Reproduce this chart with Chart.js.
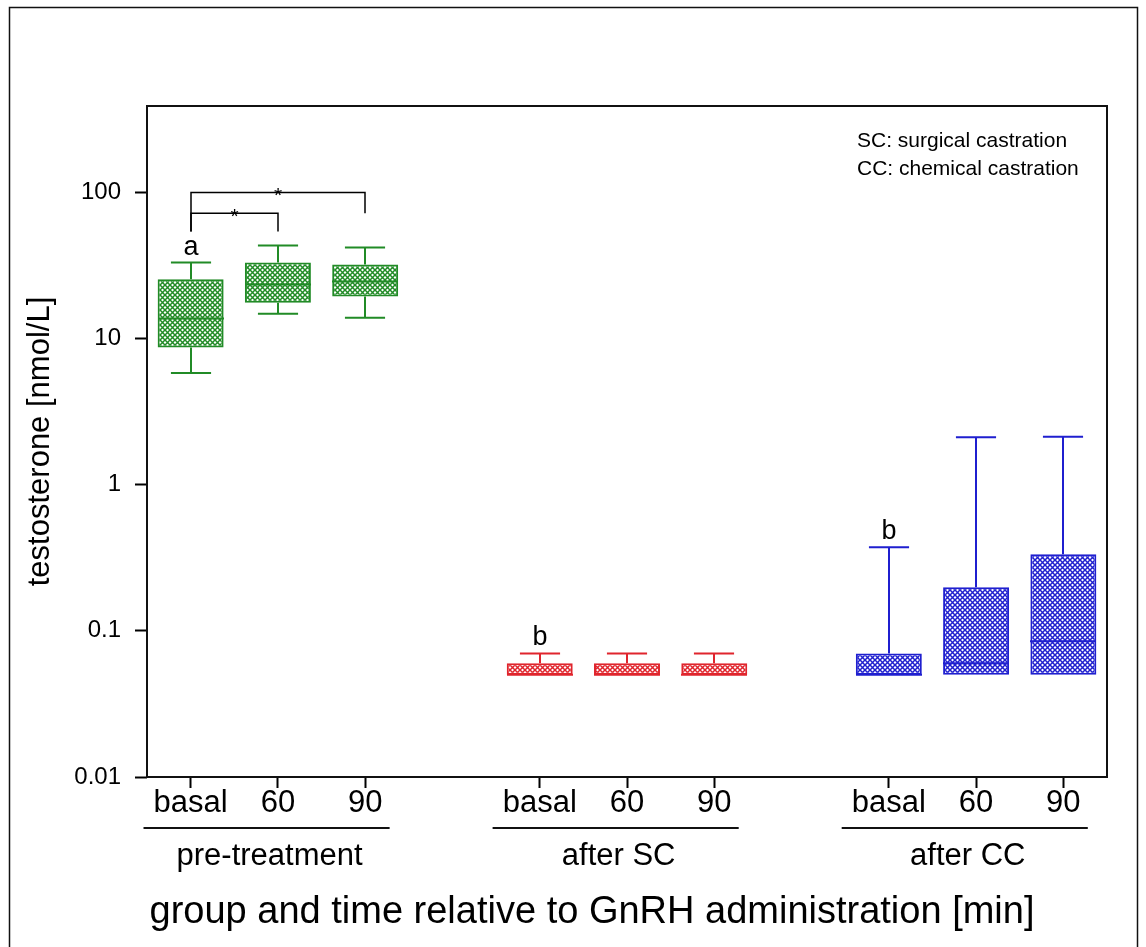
<!DOCTYPE html>
<html>
<head>
<meta charset="utf-8">
<script src="https://cdn.jsdelivr.net/npm/chart.js@4.4.1/dist/chart.umd.min.js"></script>
<style>
    body { margin: 0; background: #fff; }
    #wrap { width: 1146px; height: 947px; }
</style>
</head>
<body>
<div id="wrap"><canvas id="boxchart_testosterone" width="1146" height="947"></canvas></div>
<script>
// x slots: 3 time points per group, an empty slot between groups
const timeLabels = ['basal', '60', '90', '', 'basal', '60', '90', '', 'basal', '60', '90'];
const groupNames = ['pre-treatment', 'after SC', 'after CC'];
const groupColors = ['#218b26', '#e0252d', '#1f1fcf'];

// box plot values in nmol/L
const whiskerLow  = [5.8, 14.8, 13.9, null, 0.05, 0.05, 0.05, null, 0.05, 0.05, 0.05];
const quartile1   = [8.7, 17.6, 19.4, null, 0.05, 0.05, 0.05, null, 0.05, 0.05, 0.05];
const medians     = [13.7, 23.4, 24.6, null, 0.05, 0.05, 0.05, null, 0.05, 0.06, 0.085];
const quartile3   = [25.4, 33.1, 32.1, null, 0.06, 0.06, 0.06, null, 0.07, 0.199, 0.334];
const whiskerHigh = [33.1, 43.3, 42.0, null, 0.07, 0.07, 0.07, null, 0.373, 2.11, 2.13];

const yTicks = [0.01, 0.1, 1, 10, 100];

// letters over the boxes
const letters = ['a', '', '', '', 'b', '', '', '', 'b', '', ''];

// significance brackets: slots, level of the bar, end of left / right legs
const bracketFrom = [0, 0];
const bracketTo = [2, 1];
const bracketLevel = [100, 72];
const bracketLeftEnd = [54, 54];
const bracketRightEnd = [72, 54];

const legendLines = ['SC: surgical castration', 'CC: chemical castration'];
const xTitle = 'group and time relative to GnRH administration [min]';

const FONT = '"Liberation Sans", Arial, sans-serif';
Chart.defaults.font.family = FONT;
Chart.defaults.color = '#000';

const groupOf = (i) => Math.floor(i / 4);

// cross-hatch fill like the original figure
const hatch = (color) => {
    const c = document.createElement('canvas');
    c.width = 5;
    c.height = 5;
    const g = c.getContext('2d');
    g.fillStyle = '#fff';
    g.fillRect(0, 0, 5, 5);
    g.strokeStyle = color;
    g.lineWidth = 1.5;
    g.beginPath();
    g.moveTo(0, 0); g.lineTo(5, 5);
    g.moveTo(5, 0); g.lineTo(0, 5);
    g.stroke();
    return g.createPattern(c, 'repeat');
};

// whiskers, medians, letters, brackets, group labels, frames
const boxExtras = {
    id: 'boxExtras',
    afterDatasetsDraw(chart) {
        const {ctx, chartArea: area, scales: {x, y}} = chart;
        const bars = chart.getDatasetMeta(0).data;
        const slot = area.width / timeLabels.length;
        ctx.save();
        ctx.lineWidth = 2;
        timeLabels.forEach((lab, i) => {
            if (quartile1[i] == null) return;
            const cx = Math.round(x.getPixelForValue(i));
            const half = bars[i].width / 2;
            const cap = slot * 0.23;
            const color = groupColors[groupOf(i)];
            ctx.strokeStyle = color;
            ctx.beginPath();
            // upper whisker
            if (whiskerHigh[i] > quartile3[i]) {
                const yh = y.getPixelForValue(whiskerHigh[i]);
                ctx.moveTo(cx, y.getPixelForValue(quartile3[i]));
                ctx.lineTo(cx, yh);
                ctx.moveTo(cx - cap, yh);
                ctx.lineTo(cx + cap, yh);
            }
            // lower whisker
            if (whiskerLow[i] < quartile1[i]) {
                const yl = y.getPixelForValue(whiskerLow[i]);
                ctx.moveTo(cx, y.getPixelForValue(quartile1[i]));
                ctx.lineTo(cx, yl);
                ctx.moveTo(cx - cap, yl);
                ctx.lineTo(cx + cap, yl);
            }
            // median
            const ym = y.getPixelForValue(medians[i]);
            ctx.moveTo(cx - half, ym);
            ctx.lineTo(cx + half, ym);
            ctx.stroke();

            if (letters[i]) {
                ctx.fillStyle = '#000';
                ctx.font = '27px ' + FONT;
                ctx.textAlign = 'center';
                ctx.textBaseline = 'alphabetic';
                ctx.fillText(letters[i], cx, y.getPixelForValue(whiskerHigh[i]) - 8);
            }
        });

        // significance brackets
        ctx.strokeStyle = '#000';
        ctx.lineWidth = 1.5;
        ctx.fillStyle = '#000';
        ctx.font = '21px ' + FONT;
        ctx.textAlign = 'center';
        ctx.textBaseline = 'alphabetic';
        bracketFrom.forEach((from, k) => {
            const x1 = Math.round(x.getPixelForValue(from));
            const x2 = Math.round(x.getPixelForValue(bracketTo[k]));
            const yb = y.getPixelForValue(bracketLevel[k]);
            ctx.beginPath();
            ctx.moveTo(x1, y.getPixelForValue(bracketLeftEnd[k]));
            ctx.lineTo(x1, yb);
            ctx.lineTo(x2, yb);
            ctx.lineTo(x2, y.getPixelForValue(bracketRightEnd[k]));
            ctx.stroke();
            ctx.fillText('*', (x1 + x2) / 2, yb + 10);
        });
        ctx.restore();
    },
    afterDraw(chart) {
        const {ctx, chartArea: area, scales: {x}} = chart;
        ctx.save();
        // plot frame
        ctx.strokeStyle = '#111';
        ctx.lineWidth = 2;
        ctx.strokeRect(area.left, area.top, area.width, area.height);
        // outer figure frame
        ctx.lineWidth = 1.5;
        ctx.strokeRect(9.5, 7.5, 1128, 960);

        // group underlines and names
        ctx.fillStyle = '#000';
        ctx.font = '31px ' + FONT;
        ctx.textAlign = 'center';
        ctx.textBaseline = 'alphabetic';
        ctx.lineWidth = 2;
        groupNames.forEach((name, g) => {
            const first = g * 4;
            const left = x.getPixelForValue(first - 0.54);
            const right = x.getPixelForValue(first + 2.28);
            ctx.beginPath();
            ctx.moveTo(left, area.bottom + 51);
            ctx.lineTo(right, area.bottom + 51);
            ctx.stroke();
            ctx.fillText(name, (left + right) / 2 + 3, area.bottom + 88);
        });

        // x axis title
        ctx.font = '38px ' + FONT;
        ctx.fillText(xTitle, 592, 923);

        // legend note
        ctx.font = '21px ' + FONT;
        ctx.textAlign = 'left';
        legendLines.forEach((line, k) => {
            ctx.fillText(line, 857, 147 + k * 28);
        });
        ctx.restore();
    }
};

const patterns = groupColors.map(hatch);

new Chart('boxchart_testosterone', {
    type: 'bar',
    data: {
        labels: timeLabels,
        datasets: [{
            data: quartile1.map((q, i) => q == null ? null : [q, quartile3[i]]),
            backgroundColor: timeLabels.map((l, i) => patterns[groupOf(i)]),
            borderColor: timeLabels.map((l, i) => groupColors[groupOf(i)]),
            borderWidth: 2,
            borderSkipped: false,
            categoryPercentage: 1,
            barPercentage: 0.756
        }]
    },
    options: {
        responsive: false,
        animation: false,
        layout: {
            padding: {left: 0, top: 106, right: 39, bottom: 0}
        },
        plugins: {
            legend: {display: false},
            tooltip: {enabled: false}
        },
        scales: {
            x: {
                type: 'category',
                afterFit: (scale) => { scale.height = 170; },
                border: {display: false},
                grid: {
                    offset: false,
                    drawOnChartArea: false,
                    tickLength: 11,
                    tickWidth: 2,
                    // no tick mark on the empty slots
                    tickColor: (ctx) => timeLabels[ctx.index] ? '#000' : 'rgba(0,0,0,0)'
                },
                ticks: {
                    autoSkip: false,
                    maxRotation: 0,
                    padding: 0,
                    color: '#000',
                    font: {size: 31, lineHeight: 1}
                }
            },
            y: {
                type: 'logarithmic',
                min: 0.01,
                max: 390,
                afterFit: (scale) => { scale.width = 147; },
                afterBuildTicks: (scale) => {
                    scale.ticks = yTicks.map(v => ({value: v}));
                },
                border: {display: false},
                grid: {
                    drawOnChartArea: false,
                    tickLength: 12,
                    tickWidth: 2,
                    tickColor: '#000'
                },
                ticks: {
                    padding: 14,
                    color: '#000',
                    font: {size: 24},
                    callback: (value) => String(value)
                },
                title: {
                    display: true,
                    text: 'testosterone [nmol/L]',
                    color: '#000',
                    font: {size: 31},
                    padding: {top: 22, bottom: 0}
                }
            }
        }
    },
    plugins: [boxExtras]
});
</script>
</body>
</html>
